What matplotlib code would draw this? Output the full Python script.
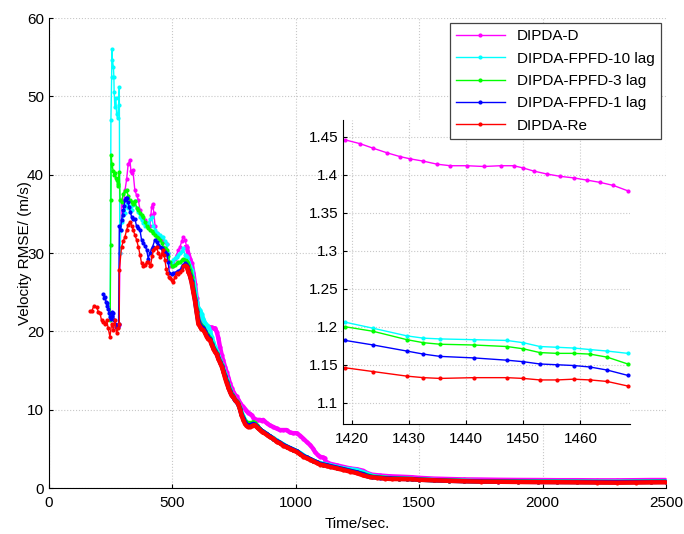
import numpy as np
import matplotlib
matplotlib.use("Agg")
import matplotlib.pyplot as plt

plt.rcParams['font.family'] = ['Liberation Sans', 'DejaVu Sans']
plt.rcParams['font.size'] = 11

# =============================
# DATOS
# =============================
t_d = [284, 288, 294, 301, 308, 315, 321, 328, 332, 335, 340, 348, 355, 362, 369, 375, 382, 389, 396, 403,
       409, 413, 416, 420, 425, 430, 436, 443, 450, 457, 463, 470, 477, 483, 490, 497, 504, 511, 517, 524,
       531, 538, 544, 551, 558, 565, 571, 578, 585, 592, 598, 605, 612, 619, 625, 632, 639, 646, 653, 659,
       666, 673, 680, 686, 693, 700, 706, 713, 720, 727, 733, 740, 747, 754, 760, 767, 774, 780, 787, 794,
       801, 808, 814, 821, 828, 835, 841, 848, 855, 862, 868, 882, 895, 909, 922, 936, 949, 963, 976, 990,
       1004, 1017, 1031, 1044, 1058, 1071, 1078, 1090, 1098, 1110, 1118, 1120, 1139, 1166, 1193, 1220, 1247,
       1274, 1290, 1310, 1340, 1380, 1420, 1450, 1470, 1500, 1560, 1620, 1680, 1750, 1820, 1900, 1980, 2060,
       2140, 2220, 2300, 2380, 2440, 2500]
v_d = [20.8, 30.0, 36.8, 36.0, 38.0, 39.5, 41.4, 41.9, 40.5, 40.2, 40.6, 38.0, 37.4, 36.8, 35.5, 34.6, 34.3, 34.2, 33.8, 33.6,
       33.4, 34.8, 35.9, 36.3, 35.1, 33.4, 32.5, 32.3, 32.1, 31.9, 31.6, 31.4, 31.2, 30.0, 28.3, 28.4, 28.7, 29.3, 29.8, 30.4,
       30.8, 31.5, 32.1, 31.7, 30.8, 29.9, 29.3, 28.7, 27.5, 26.0, 24.3, 22.8, 21.9, 21.5, 21.2, 20.9, 20.6, 20.6, 20.5, 20.5,
       20.4, 20.4, 19.9, 19.2, 18.0, 17.0, 16.3, 15.5, 14.8, 14.1, 13.4, 12.8, 12.3, 11.9, 11.7, 11.3, 10.9, 10.6, 10.4, 10.1,
       9.8, 9.6, 9.5, 9.3, 9.0, 8.8, 8.7, 8.7, 8.7, 8.6, 8.7, 8.3, 8.0, 7.8, 7.6, 7.4, 7.4, 7.4, 7.1, 7.0,
       7.0, 6.7, 6.3, 5.9, 5.5, 5.0, 4.6, 4.2, 4.0, 3.9, 3.8, 3.4, 3.1, 2.9, 2.7, 2.5, 2.4,
       2.2, 1.9, 1.7, 1.6, 1.5, 1.45, 1.41, 1.38, 1.3, 1.2, 1.15, 1.1, 1.08, 1.05, 1.03, 1.02, 1.0,
       1.0, 0.98, 0.98, 1.0, 1.02, 1.02]

t_c10 = [248, 251, 254, 255, 257, 261, 263, 264, 267, 271, 274, 278, 282, 285, 287, 290, 297, 301, 308, 315,
         321, 328, 335, 342, 348, 355, 362, 369, 375, 382, 389, 396, 403, 409, 416, 423, 430, 436, 443, 450,
         457, 463, 470, 477, 483, 490, 497, 504, 511, 517, 524, 531, 538, 544, 551, 558, 565, 571, 578, 585,
         592, 598, 605, 612, 619, 625, 632, 639, 646, 653, 659, 666, 673, 680, 686, 693, 700, 706, 713, 720,
         727, 733, 740, 747, 754, 760, 767, 774, 780, 787, 794, 801, 808, 814, 821, 828, 835, 841, 848, 855,
         862, 868, 882, 895, 909, 922, 936, 949, 963, 976, 990, 1004, 1017, 1031, 1044, 1058, 1071, 1085, 1098,
         1112, 1125, 1139, 1166, 1193, 1220, 1247, 1274, 1290, 1310, 1340, 1380, 1420, 1450, 1470, 1500, 1560,
         1620, 1680, 1750, 1820, 1900, 1980, 2060, 2140, 2220, 2300, 2380, 2440, 2500]
v_c10 = [22.0, 47.0, 52.5, 56.1, 54.6, 53.8, 52.5, 50.6, 48.7, 49.8, 47.8, 47.2, 48.9, 51.2, 30.0, 33.0, 34.0, 34.8, 35.1, 36.3,
         35.8, 36.0, 35.5, 36.2, 36.6, 35.8, 35.2, 34.6, 34.2, 33.8, 33.5, 33.4, 33.8, 34.3, 34.6, 33.5, 33.0, 32.5, 32.4, 32.3,
         32.1, 32.0, 31.6, 31.2, 30.0, 28.7, 28.8, 29.1, 29.4, 29.5, 29.8, 30.0, 30.3, 30.6, 29.8, 29.5, 28.8, 28.3, 27.8, 26.6,
         25.2, 23.8, 23.0, 22.7, 22.2, 21.6, 21.1, 20.8, 20.6, 20.0, 19.3, 18.6, 18.0, 17.5, 16.9, 16.3, 15.8, 15.3, 14.6, 13.9,
         13.2, 12.6, 12.0, 11.6, 11.2, 11.0, 10.7, 10.2, 9.7, 9.2, 8.7, 8.4, 8.2, 8.1, 8.0, 8.1, 8.1, 7.9, 7.7, 7.5,
         7.3, 7.2, 6.9, 6.6, 6.4, 6.1, 5.8, 5.6, 5.3, 5.1, 4.9, 4.7, 4.5, 4.2, 3.9, 3.7, 3.5, 3.3, 3.2,
         3.1, 3.0, 2.9, 2.7, 2.5, 2.4, 2.3, 2.0, 1.8, 1.55, 1.4, 1.27, 1.21, 1.18, 1.16, 1.1, 1.02,
         0.96, 0.92, 0.88, 0.86, 0.84, 0.83, 0.82, 0.81, 0.8, 0.8, 0.82, 0.83, 0.84]

t_c3 = [248, 250, 251, 252, 255, 260, 264, 267, 271, 274, 278, 281, 285, 288, 294, 301, 308, 315, 321, 328,
        335, 342, 348, 355, 362, 369, 375, 382, 389, 396, 403, 409, 416, 423, 430, 436, 443, 450, 457, 463,
        470, 477, 483, 490, 497, 504, 511, 517, 524, 531, 538, 544, 551, 558, 565, 571, 578, 585, 592, 598,
        605, 612, 619, 625, 632, 639, 646, 653, 659, 666, 673, 680, 686, 693, 700, 706, 713, 720, 727, 733,
        740, 747, 754, 760, 767, 774, 780, 787, 794, 801, 808, 814, 821, 828, 835, 841, 848, 855, 862, 868,
        882, 895, 909, 922, 936, 949, 963, 976, 990, 1004, 1017, 1031, 1044, 1058, 1071, 1085, 1098, 1112,
        1125, 1139, 1166, 1193, 1220, 1247, 1274, 1290, 1310, 1340, 1380, 1420, 1450, 1470, 1500, 1560, 1620,
        1680, 1750, 1820, 1900, 1980, 2060, 2140, 2220, 2300, 2380, 2440, 2500]
v_c3 = [21.5, 31.0, 36.8, 42.5, 41.4, 40.5, 40.0, 40.2, 39.6, 39.3, 38.8, 38.5, 40.4, 36.8, 36.5, 37.6, 37.9, 38.0, 37.3, 36.8,
        36.5, 36.3, 36.6, 35.8, 35.5, 35.1, 34.8, 34.6, 34.0, 33.4, 33.2, 33.0, 32.8, 32.5, 32.3, 32.1, 31.9, 31.7, 31.3, 30.8,
        30.6, 30.4, 29.6, 28.9, 28.4, 28.3, 28.5, 28.7, 28.8, 28.9, 29.1, 29.3, 29.1, 28.9, 28.5, 27.8, 27.0, 25.6, 24.2, 22.8,
        21.5, 21.0, 20.7, 20.5, 20.1, 19.7, 19.4, 19.1, 18.5, 18.0, 17.6, 17.2, 16.7, 16.2, 15.7, 15.1, 14.4, 13.7, 13.1, 12.5,
        12.0, 11.7, 11.3, 11.1, 10.8, 10.2, 9.5, 9.0, 8.6, 8.3, 8.3, 8.3, 8.3, 8.4, 8.3, 8.0, 7.8, 7.5, 7.3, 7.2,
        6.9, 6.6, 6.3, 6.0, 5.8, 5.5, 5.3, 5.1, 4.9, 4.7, 4.4, 4.1, 3.9, 3.7, 3.5, 3.3, 3.1, 3.0,
        2.9, 2.8, 2.6, 2.4, 2.2, 2.0, 1.8, 1.6, 1.45, 1.35, 1.26, 1.2, 1.17, 1.15, 1.08, 1.0, 0.95,
        0.9, 0.86, 0.84, 0.82, 0.8, 0.79, 0.78, 0.77, 0.76, 0.78, 0.79, 0.8]

t_c1 = [220, 224, 227, 231, 234, 237, 240, 244, 247, 251, 254, 257, 261, 264, 267, 271, 274, 278, 282, 285,
        290, 294, 298, 301, 305, 308, 312, 315, 320, 325, 330, 335, 342, 348, 355, 362, 369, 375, 382, 389,
        396, 402, 409, 416, 420, 429, 436, 443, 450, 457, 463, 470, 477, 483, 488, 497, 504, 511, 517, 524,
        531, 538, 544, 551, 558, 565, 571, 578, 585, 592, 598, 605, 612, 619, 625, 632, 639, 646, 653, 659,
        666, 673, 680, 686, 693, 700, 706, 713, 720, 727, 733, 740, 747, 754, 760, 767, 774, 780, 787, 794,
        801, 808, 814, 821, 828, 835, 841, 848, 855, 862, 868, 882, 895, 909, 922, 936, 949, 963, 976, 990,
        1004, 1017, 1031, 1044, 1058, 1071, 1085, 1098, 1112, 1125, 1139, 1166, 1193, 1220, 1247, 1274, 1290,
        1310, 1340, 1380, 1420, 1450, 1470, 1500, 1560, 1620, 1680, 1750, 1820, 1900, 1980, 2060, 2140, 2220,
        2300, 2380, 2440, 2500]
v_c1 = [24.8, 24.2, 24.4, 23.8, 23.6, 23.2, 22.9, 22.3, 21.9, 21.6, 22.0, 22.5, 22.3, 21.5, 21.0, 20.6, 20.8, 20.5, 20.9, 33.4,
        33.0, 34.2, 34.8, 35.5, 36.0, 36.8, 37.0, 37.0, 36.5, 35.9, 35.2, 34.6, 34.4, 34.4, 33.4, 33.2, 32.9, 31.7, 31.3, 30.9,
        30.4, 29.3, 30.0, 30.5, 30.8, 31.7, 31.4, 31.0, 30.8, 30.6, 30.4, 30.1, 29.9, 28.8, 27.4, 27.3, 27.4, 27.5, 27.6, 27.7,
        27.8, 28.2, 28.5, 28.7, 28.4, 27.8, 27.2, 26.4, 25.2, 24.0, 22.6, 21.3, 20.8, 20.5, 20.4, 20.0, 19.5, 19.2, 19.0, 18.4,
        17.9, 17.5, 17.1, 16.6, 16.1, 15.6, 15.0, 14.3, 13.6, 12.9, 12.4, 11.9, 11.6, 11.2, 11.0, 10.7, 10.1, 9.4, 8.9, 8.4,
        8.1, 8.0, 8.0, 8.1, 8.2, 8.1, 7.9, 7.7, 7.5, 7.3, 7.2, 6.9, 6.6, 6.3, 6.0, 5.8, 5.5, 5.3, 5.1, 4.9,
        4.7, 4.4, 4.1, 3.9, 3.7, 3.5, 3.3, 3.1, 3.0, 2.9, 2.8, 2.6, 2.4, 2.2, 2.0, 1.75, 1.55,
        1.4, 1.3, 1.22, 1.18, 1.155, 1.14, 1.07, 0.99, 0.93, 0.88, 0.84, 0.82, 0.8, 0.78, 0.77, 0.76, 0.75,
        0.74, 0.76, 0.77, 0.78]

t_re = [166, 173, 183, 193, 200, 207, 213, 220, 227, 234, 240, 247, 254, 261, 267, 274, 280, 285, 285, 294,
        301, 308, 315, 321, 328, 335, 342, 348, 355, 362, 369, 375, 382, 389, 396, 402, 409, 412, 418, 423,
        430, 436, 443, 450, 456, 461, 466, 470, 475, 479, 485, 490, 497, 504, 510, 517, 524, 531, 538, 544,
        551, 558, 565, 572, 578, 585, 592, 598, 605, 612, 618, 625, 632, 639, 645, 652, 659, 666, 672, 679,
        686, 693, 700, 707, 713, 720, 727, 733, 740, 747, 754, 760, 767, 774, 780, 787, 794, 801, 808, 814,
        821, 828, 835, 841, 848, 855, 862, 868, 882, 895, 909, 922, 936, 949, 963, 976, 990, 1004, 1017, 1031,
        1044, 1058, 1071, 1085, 1098, 1112, 1125, 1139, 1166, 1193, 1220, 1247, 1274, 1300, 1330, 1360, 1390,
        1420, 1450, 1470, 1500, 1560, 1620, 1680, 1750, 1820, 1900, 1980, 2060, 2140, 2220, 2300, 2380, 2440,
        2500]
v_re = [22.6, 22.6, 23.3, 23.1, 22.5, 22.3, 21.4, 21.2, 21.0, 21.4, 20.4, 19.3, 21.0, 20.2, 21.4, 19.8, 20.4, 21.0, 27.8, 30.8,
        31.5, 32.1, 33.0, 33.6, 34.0, 33.5, 32.9, 32.3, 31.7, 30.8, 29.8, 28.7, 28.4, 28.5, 28.8, 28.9, 28.4, 28.5, 29.6, 30.4,
        30.6, 30.8, 30.0, 29.5, 29.9, 30.4, 29.8, 29.1, 28.0, 27.4, 27.0, 26.8, 26.5, 26.3, 26.9, 27.4, 27.3, 27.6, 27.8, 28.4,
        28.5, 28.2, 27.6, 27.0, 26.2, 25.0, 23.8, 22.5, 21.0, 20.6, 20.3, 20.2, 19.8, 19.3, 19.0, 18.9, 18.3, 17.8, 17.4, 17.1,
        16.5, 16.0, 15.5, 14.8, 14.1, 13.4, 12.8, 12.3, 11.8, 11.6, 11.2, 11.0, 10.7, 10.0, 9.3, 8.7, 8.2, 7.9, 7.8, 7.8,
        7.9, 8.0, 8.0, 7.8, 7.6, 7.4, 7.2, 7.1, 6.8, 6.5, 6.3, 5.9, 5.7, 5.4, 5.2, 5.0, 4.8, 4.6, 4.3, 4.0,
        3.8, 3.6, 3.4, 3.2, 3.0, 2.9, 2.8, 2.7, 2.5, 2.3, 2.1, 1.9, 1.6, 1.4, 1.3, 1.2, 1.15,
        1.14, 1.13, 1.12, 1.05, 0.98, 0.92, 0.86, 0.82, 0.8, 0.77, 0.75, 0.74, 0.72, 0.7, 0.68, 0.7, 0.72,
        0.73]

# zoom 1418-1468 s
zt_d = [1418.8, 1421.4, 1423.7, 1426.1, 1428.4, 1430.2, 1432.5, 1434.9, 1437.2, 1440.1, 1443.1, 1446.0,
        1448.3, 1450.0, 1451.8, 1454.2, 1456.5, 1458.8, 1461.2, 1463.5, 1465.8, 1468.3]
zv_d = [1.446, 1.441, 1.435, 1.429, 1.424, 1.421, 1.418, 1.414, 1.412, 1.412, 1.411, 1.412,
        1.412, 1.409, 1.405, 1.401, 1.398, 1.396, 1.393, 1.390, 1.386, 1.379]
zt = [1418.8, 1423.7, 1429.6, 1432.5, 1435.4, 1441.3, 1447.1, 1450.0, 1452.9, 1455.9, 1458.8, 1461.7, 1464.7, 1468.3]
zv_c10 = [1.206, 1.198, 1.188, 1.185, 1.184, 1.183, 1.182, 1.179, 1.174, 1.173, 1.172, 1.170, 1.168, 1.165]
zv_c3 = [1.200, 1.194, 1.183, 1.179, 1.177, 1.176, 1.174, 1.171, 1.166, 1.165, 1.165, 1.164, 1.160, 1.151]
zv_c1 = [1.182, 1.176, 1.168, 1.164, 1.161, 1.159, 1.156, 1.154, 1.151, 1.150, 1.149, 1.147, 1.143, 1.136]
zv_re = [1.146, 1.141, 1.135, 1.133, 1.132, 1.133, 1.133, 1.132, 1.130, 1.130, 1.131, 1.130, 1.128, 1.122]

names = ["DIPDA-D", "DIPDA-FPFD-10 lag", "DIPDA-FPFD-3 lag", "DIPDA-FPFD-1 lag", "DIPDA-Re"]
colors = ["#ff00ff", "#00ffff", "#00ff00", "#0000ff", "#ff0000"]
main = [(t_d, v_d), (t_c10, v_c10), (t_c3, v_c3), (t_c1, v_c1), (t_re, v_re)]
zoom = [(zt_d, zv_d), (zt, zv_c10), (zt, zv_c3), (zt, zv_c1), (zt, zv_re)]

# =============================
# GRAFICA PRINCIPAL
# =============================
fig = plt.figure(figsize=(6.84, 5.34), dpi=100)
ax = fig.add_axes([0.0716, 0.0861, 0.902, 0.880])

handles = []
for (t, v), c, n in zip(main, colors, names):
    t = np.array(t)
    v = np.array(v)
    early = t <= 565
    late = t >= 558
    h, = ax.plot(t[early], v[early], '-', color=c, lw=1, marker='.', ms=4, label=n)
    ax.plot(t[late], v[late], '-', color=c, lw=3.2, marker='.', ms=4, solid_joinstyle='round')
    handles.append(h)

ax.set_xlim(0, 2500)
ax.set_ylim(0, 60)
ax.set_xticks([0, 500, 1000, 1500, 2000, 2500])
ax.set_yticks([0, 10, 20, 30, 40, 50, 60])
ax.grid(True, linestyle=':', color='#c8c8c8', lw=0.8)
ax.tick_params(direction='in', length=3)
ax.tick_params(axis='x', pad=6)
for s in ['top', 'right']:
    ax.spines[s].set_visible(False)
ax.set_xlabel("Time/sec.", labelpad=5)
ax.set_ylabel("Velocity RMSE/ (m/s)")
ax.yaxis.set_label_coords(-0.028, 0.5)

# =============================
# ZOOM
# =============================
ax2 = fig.add_axes([0.5015, 0.206, 0.4196, 0.569])
for (t, v), c in zip(zoom, colors):
    ax2.plot(t, v, '-', color=c, lw=1, marker='.', ms=4)
ax2.set_xlim(1418.4, 1468.7)
ax2.set_ylim(1.072, 1.472)
ax2.set_xticks([1420, 1430, 1440, 1450, 1460])
ax2.set_yticks([1.1, 1.15, 1.2, 1.25, 1.3, 1.35, 1.4, 1.45])
ax2.set_yticklabels(["1.1", "1.15", "1.2", "1.25", "1.3", "1.35", "1.4", "1.45"])
ax2.grid(True, linestyle=':', color='#c8c8c8', lw=0.8)
ax2.tick_params(direction='in', length=3)
ax2.tick_params(axis='x', pad=6)
for s in ['top', 'right']:
    ax2.spines[s].set_visible(False)

leg = ax2.legend(handles, names, loc='upper right', bbox_to_anchor=(661 / 684, 1 - 23 / 534),
                 bbox_transform=fig.transFigure, borderaxespad=0, handlelength=3.2,
                 labelspacing=0.55, fancybox=False, edgecolor='#444444', framealpha=1)
leg.get_frame().set_linewidth(0.9)
leg.set_zorder(10)

fig.savefig("out.png", dpi=100)
